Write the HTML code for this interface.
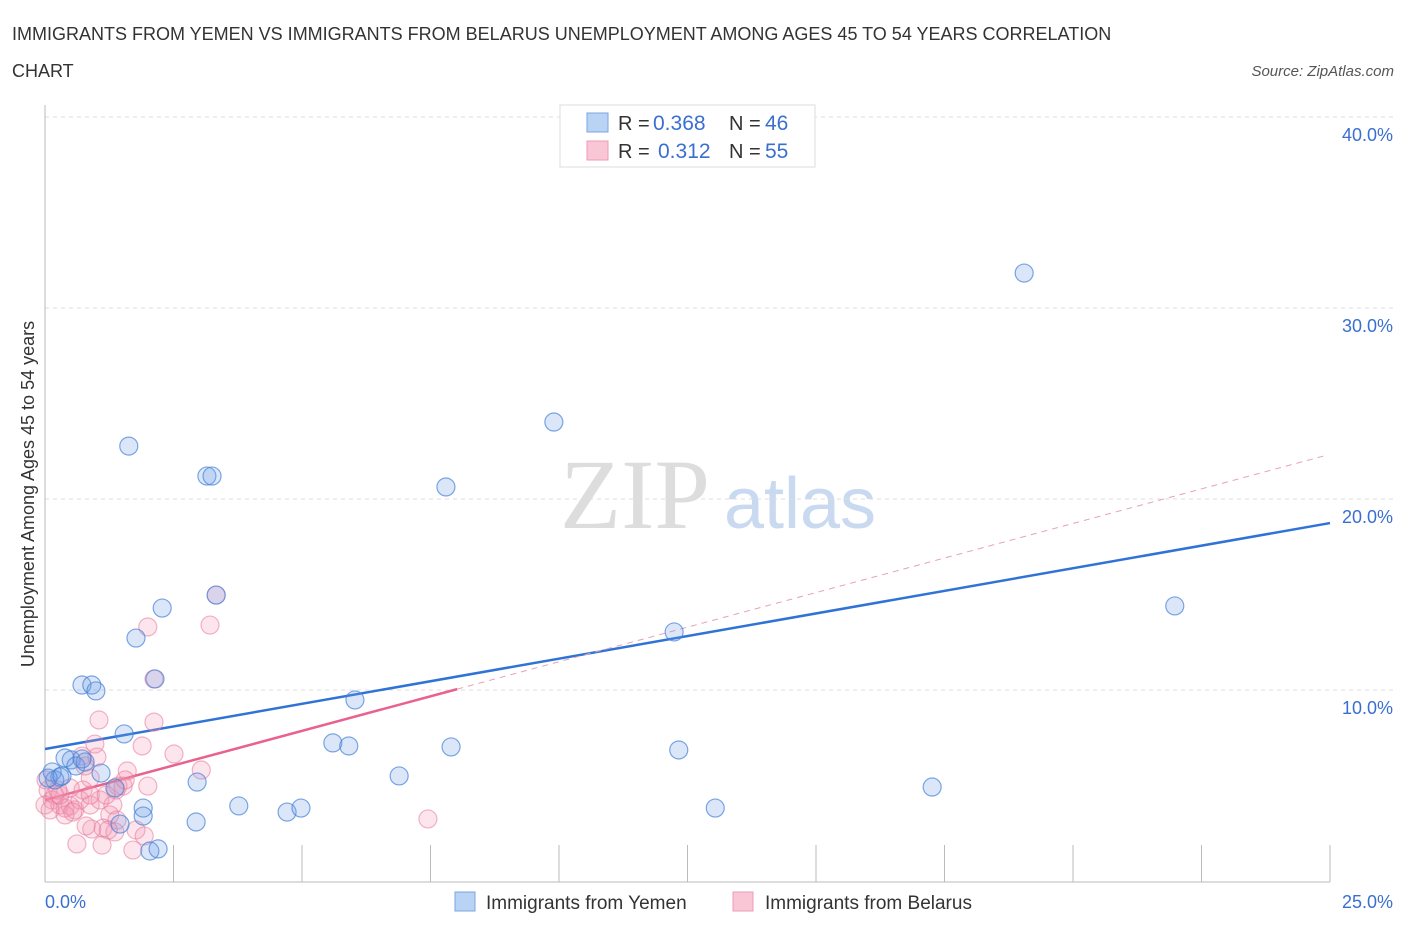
<!DOCTYPE html>
<html><head><meta charset="utf-8"><style>
body{margin:0;background:#fff;font-family:"Liberation Sans",sans-serif;}
</style></head><body>
<svg id="chart" width="1406" height="930" xmlns="http://www.w3.org/2000/svg">
<text x="12" y="40" font-size="18" fill="#333">IMMIGRANTS FROM YEMEN VS IMMIGRANTS FROM BELARUS UNEMPLOYMENT AMONG AGES 45 TO 54 YEARS CORRELATION</text>
<text x="12" y="77" font-size="18" fill="#333">CHART</text>
<text x="1394" y="76" font-size="15" fill="#555" font-style="italic" text-anchor="end">Source: ZipAtlas.com</text>
<g>
<text x="635" y="528" font-size="100" fill="#ddd" font-family="Liberation Serif,serif" text-anchor="middle">ZIP</text>
<text x="800" y="528" font-size="72" fill="#c9d9ef" text-anchor="middle">atlas</text>
</g>
<g id="grid"></g>
<g id="axes"></g>
<text transform="translate(34,494) rotate(-90)" font-size="18" fill="#333" text-anchor="middle">Unemployment Among Ages 45 to 54 years</text>
<g id="trend"></g>
<g id="points"></g>
<g>
<rect x="560" y="105" width="255" height="62" fill="#fff" stroke="#ddd"/>
<rect x="587" y="113" width="21" height="19" fill="#b9d3f5" stroke="#7aa6e0"/>
<rect x="587" y="141" width="21" height="19" fill="#f9c6d6" stroke="#eb9cb5"/>
<text x="618" y="130" font-size="20" fill="#333">R =</text>
<text x="653" y="130" font-size="21" fill="#3a6fd0">0.368</text>
<text x="729" y="130" font-size="20" fill="#333">N =</text>
<text x="765" y="130" font-size="21" fill="#3a6fd0">46</text>
<text x="618" y="158" font-size="20" fill="#333">R =</text>
<text x="658" y="158" font-size="21" fill="#3a6fd0">0.312</text>
<text x="729" y="158" font-size="20" fill="#333">N =</text>
<text x="765" y="158" font-size="21" fill="#3a6fd0">55</text>
</g>
<g>
<rect x="455" y="892" width="20" height="19" fill="#b9d3f5" stroke="#7aa6e0"/>
<text x="486" y="909" font-size="19" fill="#333">Immigrants from Yemen</text>
<rect x="733" y="892" width="20" height="19" fill="#f9c6d6" stroke="#eb9cb5"/>
<text x="765" y="909" font-size="19" fill="#333">Immigrants from Belarus</text>
</g>
</svg>
<script>
const yTicks=[10,20,30,40];
const xTickLabels=["0.0%","25.0%"];
const blueX=[1.63,3.15,3.25,2.28,1.77,0.72,0.91,0.99,1.54,2.14,3.33,2.96,2.94,1.91,1.91,2.04,2.20,1.36,1.46,1.09,0.51,0.39,0.14,0.29,0.60,0.78,0.19,0.72,5.60,5.91,6.03,7.80,9.90,7.90,6.89,3.77,4.71,4.98,12.24,12.33,13.04,17.26,19.05,21.98,0.06,0.33];
const blueY=[22.77,21.2,21.2,14.29,12.72,10.26,10.26,9.95,7.7,10.58,14.97,5.18,3.09,3.82,3.4,1.57,1.68,4.87,2.98,5.65,6.34,6.44,5.71,5.45,6.02,6.23,5.29,6.39,7.23,7.07,9.48,20.63,24.03,7.02,5.5,3.93,3.61,3.82,13.04,6.86,3.82,4.92,31.83,14.4,5.39,5.5];
const pinkX=[2.00,3.21,3.33,2.12,1.05,2.12,0.97,1.89,2.51,1.01,1.60,3.04,1.42,2.00,0.88,0.78,0.72,0.06,0.14,0.29,0.39,0.49,0.58,0.19,0.00,0.10,0.29,0.68,0.88,1.07,1.32,1.38,1.52,1.26,1.13,0.91,0.80,1.40,1.36,1.23,1.77,1.93,1.71,1.11,0.62,0.39,0.54,7.45,0.74,0.49,1.56,0.02,0.88,0.25,1.19];
const pinkY=[13.3,13.4,14.97,10.58,8.43,8.32,7.17,7.07,6.65,6.49,5.76,5.81,4.97,4.97,5.39,6.02,6.54,4.76,4.24,3.98,3.82,3.93,3.72,4.5,3.98,3.72,4.5,4.24,3.98,4.24,3.98,4.76,4.97,3.46,2.77,2.72,2.88,3.19,2.57,2.67,2.67,2.36,1.62,1.88,1.94,3.46,3.61,3.25,4.76,4.87,5.29,5.29,4.5,4.76,4.5];
const blueTrend=[6.91,18.74];
const pinkTrend=[4.24,0.724];
const NS="http://www.w3.org/2000/svg";
const X=v=>45+v*51.4, Y=v=>881-v*19.1;
function mk(t,a,p){const e=document.createElementNS(NS,t);for(const k in a)e.setAttribute(k,a[k]);p.appendChild(e);return e;}
const grid=document.getElementById('grid');
yTicks.forEach(t=>{
 const l=mk('line',{x1:45,x2:1393,y1:Y(t),y2:Y(t),stroke:'#ddd','stroke-dasharray':'4,4'},grid);
 
 
 const tx=mk('text',{x:1393,y:Y(t)+24,'font-size':18,fill:'#3a6fd0','text-anchor':'end'},grid);
 tx.textContent=t.toFixed(1)+'%';
 
 
});
const ax=document.getElementById('axes');
const yl=mk('line',{x1:45,x2:45,y1:105,y2:882,stroke:'#bbb'},ax);


const xl=mk('line',{x1:45,x2:1330,y1:882,y2:882,stroke:'#bbb'},ax);


for(let i=1;i<=10;i++){const t=mk('line',{x1:X(i*2.5),x2:X(i*2.5),y1:845,y2:882,stroke:'#bbb'},ax);
 
 }
[[0,'start',45],[25,'end',1393]].forEach((d,i)=>{const t=mk('text',{x:d[2],y:908,'font-size':18,fill:'#3a6fd0','text-anchor':d[1]},ax);t.textContent=xTickLabels[i];
 
 });
const pts=document.getElementById('points');
function dots(xs,ys,fill,stroke,name){xs.forEach((x,i)=>{const c=mk('circle',{cx:X(x),cy:Y(ys[i]),r:9,fill:fill,stroke:stroke,'stroke-width':1.2},pts);
 
 });}
dots(pinkX,pinkY,'rgba(244,150,180,0.25)','rgba(232,120,155,0.55)','belarus-point');
dots(blueX,blueY,'rgba(110,160,230,0.25)','rgba(70,130,215,0.7)','yemen-point');
const tr=document.getElementById('trend');
const bl=mk('line',{x1:X(0),y1:Y(blueTrend[0]),x2:X(25),y2:Y(blueTrend[1]),stroke:'#2f73d6','stroke-width':2.5},tr);


const pl=mk('line',{x1:X(0),y1:Y(pinkTrend[0]),x2:X(8.02),y2:Y(pinkTrend[0]+pinkTrend[1]*8.02),stroke:'#e8628d','stroke-width':2.5},tr);


const pd=mk('line',{x1:X(8.02),y1:Y(pinkTrend[0]+pinkTrend[1]*8.02),x2:X(24.9),y2:Y(pinkTrend[0]+pinkTrend[1]*24.9),stroke:'#e8a0b8','stroke-width':1,'stroke-dasharray':'6,5'},tr);


</script>
</body></html>
